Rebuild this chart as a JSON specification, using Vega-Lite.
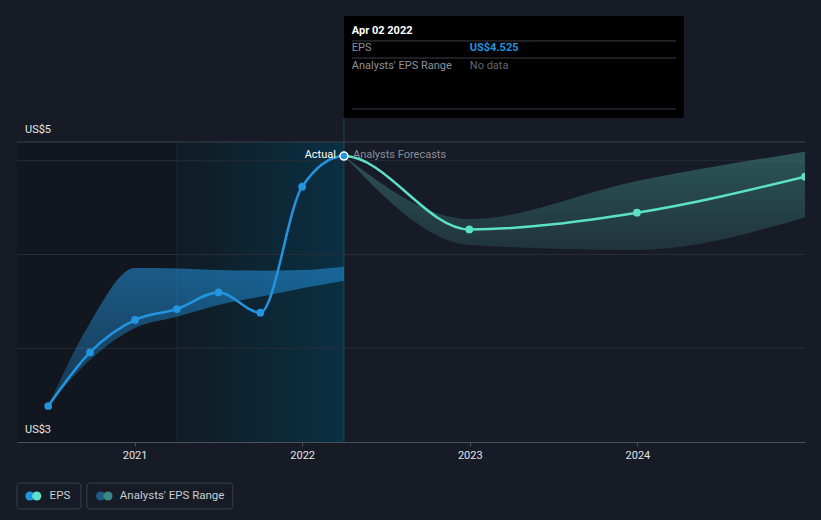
{
  "$schema": "https://vega.github.io/schema/vega-lite/v6.json",
  "width": 788,
  "height": 300,
  "autosize": {"type": "none"},
  "padding": {"left": 17, "top": 142, "right": 16, "bottom": 78},
  "background": "#161b26",
  "config": {
    "view": {"stroke": null},
    "font": "Roboto",
    "text": {"font": "Roboto"}
  },
  "encoding": {
    "x": {
      "field": "date",
      "type": "temporal",
      "scale": {"type": "utc", "domain": [{"year": 2020, "month": 4, "date": 20, "utc": true}, {"year": 2024, "month": 12, "date": 31, "utc": true}]},
      "axis": {
        "title": null,
        "grid": false,
        "values": [
          {"year": 2021, "month": 1, "date": 1, "utc": true},
          {"year": 2022, "month": 1, "date": 1, "utc": true},
          {"year": 2023, "month": 1, "date": 1, "utc": true},
          {"year": 2024, "month": 1, "date": 1, "utc": true}
        ],
        "format": "%Y",
        "formatType": "utc",
        "domainColor": "#4b505a",
        "tickColor": "#4b505a",
        "tickSize": 4,
        "labelColor": "#e2e4e8",
        "labelFont": "Roboto",
        "labelFontSize": 11,
        "labelPadding": 3
      }
    },
    "y": {
      "field": "v",
      "type": "quantitative",
      "scale": {"domain": [3, 4.6], "nice": false, "zero": false},
      "axis": null
    }
  },
  "layer": [
    {
      "data": {"values": [{"date": "2020-04-20", "date2": "2022-04-02", "v": 3, "v2": 4.6}]},
      "mark": {"type": "rect", "fill": "#12161e"},
      "encoding": {"x2": {"field": "date2"}, "y2": {"field": "v2"}}
    },
    {
      "data": {"values": [{"date": "2021-04-03", "date2": "2022-04-02", "v": 3, "v2": 4.6}]},
      "mark": {
        "type": "rect",
        "fill": {"gradient": "linear", "x1": 0, "y1": 0, "x2": 1, "y2": 0, "stops": [{"offset": 0, "color": "#101b24"}, {"offset": 1, "color": "#0a3043"}]}
      },
      "encoding": {"x2": {"field": "date2"}, "y2": {"field": "v2"}}
    },
    {
      "data": {"values": [{"date": "2021-04-03", "v": 3, "v2": 4.6}]},
      "mark": {"type": "rule", "color": "#152c37", "strokeWidth": 1},
      "encoding": {"y2": {"field": "v2"}}
    },
    {
      "data": {"values": [
        {"date": "2020-04-20", "date2": "2024-12-31", "v": 3.5},
        {"date": "2020-04-20", "date2": "2024-12-31", "v": 4},
        {"date": "2020-04-20", "date2": "2024-12-31", "v": 4.5}
      ]},
      "mark": {"type": "rule", "color": "#272c36", "strokeWidth": 1},
      "encoding": {"x2": {"field": "date2"}}
    },
    {
      "data": {"values": [{"date": "2022-04-02", "v": 3, "v2": 4.728}]},
      "mark": {"type": "rule", "color": "#1a4a5e", "strokeWidth": 1},
      "encoding": {"y2": {"field": "v2"}}
    },
    {
      "data": {"values": [{"date": "2020-04-20", "date2": "2024-12-31", "v": 4.6}]},
      "mark": {"type": "rule", "color": "#3b404a", "strokeWidth": 1},
      "encoding": {"x2": {"field": "date2"}}
    },
    {
      "data": {"values": [
        {"date": "2020-06-27", "v": 3.192, "v2": 3.192},
        {"date": "2020-09-26", "v": 3.437, "v2": 3.635},
        {"date": "2021-01-02", "v": 3.608, "v2": 3.928},
        {"date": "2021-04-03", "v": 3.668, "v2": 3.926},
        {"date": "2021-07-03", "v": 3.731, "v2": 3.917},
        {"date": "2021-10-02", "v": 3.775, "v2": 3.914},
        {"date": "2022-01-01", "v": 3.820, "v2": 3.917},
        {"date": "2022-04-02", "v": 3.860, "v2": 3.935}
      ]},
      "mark": {
        "type": "area",
        "interpolate": "monotone",
        "fill": {"gradient": "linear", "x1": 0, "y1": 0, "x2": 0, "y2": 1, "stops": [{"offset": 0, "color": "rgba(35,148,223,0.55)"}, {"offset": 1, "color": "rgba(35,148,223,0.25)"}]}
      },
      "encoding": {"y2": {"field": "v2"}}
    },
    {
      "data": {"values": [
        {"date": "2022-04-02", "v": 4.525, "v2": 4.525},
        {"date": "2022-12-31", "v": 4.051, "v2": 4.189},
        {"date": "2023-12-31", "v": 4.024, "v2": 4.392},
        {"date": "2024-12-31", "v": 4.198, "v2": 4.548}
      ]},
      "mark": {
        "type": "area",
        "interpolate": "monotone",
        "clip": true,
        "fill": {"gradient": "linear", "x1": 0, "y1": 0, "x2": 0, "y2": 1, "stops": [{"offset": 0, "color": "rgba(80,180,165,0.38)"}, {"offset": 1, "color": "rgba(80,180,165,0.16)"}]}
      },
      "encoding": {"y2": {"field": "v2"}}
    },
    {
      "data": {"values": [
        {"date": "2020-06-27", "v": 3.192},
        {"date": "2020-09-26", "v": 3.478},
        {"date": "2021-01-02", "v": 3.651},
        {"date": "2021-04-03", "v": 3.709},
        {"date": "2021-07-03", "v": 3.798},
        {"date": "2021-10-02", "v": 3.690},
        {"date": "2022-01-01", "v": 4.362},
        {"date": "2022-04-02", "v": 4.525},
        {"date": "2022-12-31", "v": 4.134},
        {"date": "2023-12-31", "v": 4.223},
        {"date": "2024-12-31", "v": 4.415}
      ]},
      "mark": {
        "type": "line",
        "interpolate": "monotone",
        "strokeWidth": 2.5,
        "clip": true,
        "stroke": {"gradient": "linear", "x1": 0, "y1": 0, "x2": 1, "y2": 0, "stops": [{"offset": 0, "color": "#2394df"}, {"offset": 0.3908, "color": "#2394df"}, {"offset": 0.3908, "color": "#5ce0c6"}, {"offset": 1, "color": "#5ce0c6"}]}
      }
    },
    {
      "data": {"values": [
        {"date": "2020-06-27", "v": 3.192},
        {"date": "2020-09-26", "v": 3.478},
        {"date": "2021-01-02", "v": 3.651},
        {"date": "2021-04-03", "v": 3.709},
        {"date": "2021-07-03", "v": 3.798},
        {"date": "2021-10-02", "v": 3.690},
        {"date": "2022-01-01", "v": 4.362}
      ]},
      "mark": {"type": "point", "filled": true, "size": 60, "color": "#2394df", "opacity": 1}
    },
    {
      "data": {"values": [
        {"date": "2022-12-31", "v": 4.134},
        {"date": "2023-12-31", "v": 4.223},
        {"date": "2024-12-31", "v": 4.415}
      ]},
      "mark": {"type": "point", "filled": true, "size": 60, "color": "#5ce0c6", "opacity": 1, "clip": true}
    },
    {
      "data": {"values": [{"date": "2022-04-02", "v": 4.525}]},
      "mark": {"type": "point", "filled": true, "size": 65, "fill": "#2394df", "stroke": "#ffffff", "strokeWidth": 1.5, "opacity": 1}
    },
    {
      "data": {"values": [{"date": "2022-04-02", "v": 4.525, "label": "Actual"}]},
      "mark": {"type": "text", "align": "right", "dx": -8, "dy": -1, "fontSize": 11, "color": "#ffffff"},
      "encoding": {"text": {"field": "label"}}
    },
    {
      "data": {"values": [{"date": "2022-04-02", "v": 4.525, "label": "Analysts Forecasts"}]},
      "mark": {"type": "text", "align": "left", "dx": 9, "dy": -1, "fontSize": 11, "color": "#8a8e95"},
      "encoding": {"text": {"field": "label"}}
    },
    {
      "data": {"values": [
        {"date": "2020-04-20", "v": 4.664, "label": "US$5"},
        {"date": "2020-04-20", "v": 3.064, "label": "US$3"}
      ]},
      "mark": {"type": "text", "align": "left", "dx": 8, "fontSize": 11, "color": "#e6e7ea"},
      "encoding": {"text": {"field": "label"}}
    },
    {
      "data": {"values": [{"date": "2022-04-02", "date2": "2024-04-11", "v": 4.728, "v2": 5.272}]},
      "mark": {"type": "rect", "fill": "#000000"},
      "encoding": {"x2": {"field": "date2"}, "y2": {"field": "v2"}}
    },
    {
      "data": {"values": [
        {"date": "2022-04-19", "date2": "2024-03-25", "v": 5.139},
        {"date": "2022-04-19", "date2": "2024-03-25", "v": 5.048},
        {"date": "2022-04-19", "date2": "2024-03-25", "v": 4.776}
      ]},
      "mark": {"type": "rule", "color": "#3d3f44", "strokeWidth": 1},
      "encoding": {"x2": {"field": "date2"}}
    },
    {
      "data": {"values": [{"date": "2022-04-19", "v": 5.192, "label": "Apr 02 2022"}]},
      "mark": {"type": "text", "align": "left", "fontSize": 11, "fontWeight": "bold", "color": "#ffffff"},
      "encoding": {"text": {"field": "label"}}
    },
    {
      "data": {"values": [
        {"date": "2022-04-19", "v": 5.101, "label": "EPS"},
        {"date": "2022-04-19", "v": 5.005, "label": "Analysts' EPS Range"}
      ]},
      "mark": {"type": "text", "align": "left", "fontSize": 11, "color": "#8e9198"},
      "encoding": {"text": {"field": "label"}}
    },
    {
      "data": {"values": [{"date": "2023-01-01", "v": 5.101, "label": "US$4.525"}]},
      "mark": {"type": "text", "align": "left", "fontSize": 11, "fontWeight": "bold", "color": "#2394df"},
      "encoding": {"text": {"field": "label"}}
    },
    {
      "data": {"values": [{"date": "2023-01-01", "v": 5.005, "label": "No data"}]},
      "mark": {"type": "text", "align": "left", "fontSize": 11, "color": "#65686e"},
      "encoding": {"text": {"field": "label"}}
    },
    {
      "data": {"values": [
        {"date": "2020-04-20", "date2": "2020-09-06", "v": 2.643, "v2": 2.781},
        {"date": "2020-09-19", "date2": "2021-08-03", "v": 2.643, "v2": 2.781}
      ]},
      "mark": {"type": "rect", "fill": null, "fillOpacity": 0, "stroke": "#3a3f4a", "strokeWidth": 1, "cornerRadius": 3},
      "encoding": {"x2": {"field": "date2"}, "y2": {"field": "v2"}}
    },
    {
      "data": {"values": [{"date": "2020-05-18", "v": 2.712}]},
      "mark": {"type": "point", "filled": true, "size": 85, "color": "#2394df", "opacity": 1}
    },
    {
      "data": {"values": [{"date": "2020-06-02", "v": 2.712}]},
      "mark": {"type": "point", "filled": true, "size": 85, "color": "#5ce0c6", "opacity": 1}
    },
    {
      "data": {"values": [{"date": "2020-10-19", "v": 2.712}]},
      "mark": {"type": "point", "filled": true, "size": 85, "color": "#1f5b88", "opacity": 1}
    },
    {
      "data": {"values": [{"date": "2020-11-04", "v": 2.712}]},
      "mark": {"type": "point", "filled": true, "size": 85, "color": "#3b8582", "opacity": 1}
    },
    {
      "data": {"values": [
        {"date": "2020-06-30", "v": 2.712, "label": "EPS"},
        {"date": "2020-11-30", "v": 2.712, "label": "Analysts' EPS Range"}
      ]},
      "mark": {"type": "text", "align": "left", "fontSize": 11.5, "color": "#c9ccd1"},
      "encoding": {"text": {"field": "label"}}
    }
  ]
}
